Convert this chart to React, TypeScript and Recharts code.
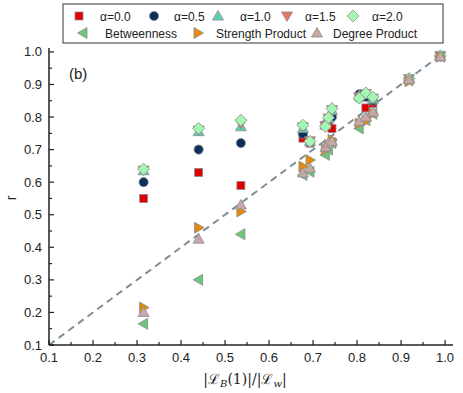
import React from 'react';
import { ScatterChart, Scatter, XAxis, YAxis, ReferenceLine } from 'recharts';

// |L_B(1)| / |L_w| for each network
const NETWORK_X = [0.315, 0.44, 0.536, 0.677, 0.693, 0.728, 0.735, 0.743, 0.805, 0.82, 0.836, 0.918, 0.989];

// r values per series (same order as NETWORK_X)
const ALPHA_00 = [0.55, 0.63, 0.59, 0.735, 0.72, 0.775, 0.79, 0.765, 0.86, 0.828, 0.842, 0.915, 0.988];
const ALPHA_05 = [0.6, 0.7, 0.72, 0.748, 0.722, 0.775, 0.793, 0.8, 0.87, 0.862, 0.85, 0.918, 0.988];
const ALPHA_10 = [0.635, 0.755, 0.77, 0.765, 0.725, 0.775, 0.795, 0.82, 0.865, 0.87, 0.855, 0.918, 0.988];
const ALPHA_15 = [0.637, 0.76, 0.78, 0.77, 0.727, 0.773, 0.797, 0.823, 0.862, 0.872, 0.858, 0.918, 0.988];
const ALPHA_20 = [0.64, 0.765, 0.79, 0.775, 0.725, 0.771, 0.798, 0.826, 0.858, 0.874, 0.861, 0.918, 0.988];
const BETWEENNESS = [0.165, 0.3, 0.44, 0.622, 0.632, 0.684, 0.7, 0.72, 0.765, 0.79, 0.81, 0.912, 0.985];
const STRENGTH = [0.215, 0.46, 0.51, 0.648, 0.668, 0.7, 0.715, 0.73, 0.78, 0.788, 0.81, 0.91, 0.985];
const DEGREE = [0.2, 0.425, 0.53, 0.628, 0.643, 0.707, 0.72, 0.725, 0.786, 0.8, 0.815, 0.915, 0.985];

const DIAGONAL = [{ x: 0.1, y: 0.1 }, { x: 1.0, y: 1.0 }];

const X_TICKS = [0.1, 0.15, 0.2, 0.25, 0.3, 0.35, 0.4, 0.45, 0.5, 0.55, 0.6, 0.65, 0.7, 0.75, 0.8, 0.85, 0.9, 0.95, 1.0];
const Y_TICKS = X_TICKS;

const FONT = '"Liberation Sans", Arial, sans-serif';
const EDGE = '#8c8c8c';

const SERIES = [
  { name: 'α=0.0', values: ALPHA_00, shape: 'square', color: '#e00000' },
  { name: 'α=0.5', values: ALPHA_05, shape: 'circle', color: '#0d2f5e' },
  { name: 'α=1.0', values: ALPHA_10, shape: 'up', color: '#5fcfb6' },
  { name: 'α=1.5', values: ALPHA_15, shape: 'down', color: '#e6766a' },
  { name: 'α=2.0', values: ALPHA_20, shape: 'diamond', color: '#a3f7b2' },
  { name: 'Betweenness', values: BETWEENNESS, shape: 'left', color: '#6dc77a' },
  { name: 'Strength Product', values: STRENGTH, shape: 'right', color: '#e38a0c' },
  { name: 'Degree Product', values: DEGREE, shape: 'up', color: '#c6a8a8' },
];

// legend layout: [icon x, icon y, text x]
const LEGEND_POS = [
  [79, 16, 100], [154, 16, 174], [218, 16, 240], [287, 16, 305], [353, 16, 372],
  [83, 33, 105], [198, 33, 216], [317, 33, 333],
];

function Marker({ kind, cx, cy, fill }: any) {
  const common = { fill, stroke: EDGE, strokeWidth: 0.8 };
  const s = 5.5;
  switch (kind) {
    case 'square':
      return <rect x={cx - 4} y={cy - 4} width={8} height={8} {...common} />;
    case 'circle':
      return <circle cx={cx} cy={cy} r={4.6} {...common} />;
    case 'up':
      return <polygon points={`${cx},${cy - s} ${cx + s},${cy + 4} ${cx - s},${cy + 4}`} {...common} />;
    case 'down':
      return <polygon points={`${cx},${cy + s} ${cx + s},${cy - 4} ${cx - s},${cy - 4}`} {...common} />;
    case 'left':
      return <polygon points={`${cx - s},${cy} ${cx + 4},${cy - s} ${cx + 4},${cy + s}`} {...common} />;
    case 'right':
      return <polygon points={`${cx + s},${cy} ${cx - 4},${cy - s} ${cx - 4},${cy + s}`} {...common} />;
    case 'diamond':
      return <polygon points={`${cx},${cy - 6} ${cx + 6},${cy} ${cx},${cy + 6} ${cx - 6},${cy}`} {...common} />;
    default:
      return null;
  }
}

const isMajor = (v: number) => Math.round(v * 100) % 10 === 0;

// ticks point inward; labels only on bottom and left
function AxisTick({ x, y, payload, side }: any) {
  const v = payload.value;
  const len = isMajor(v) ? 5 : 3;
  const ln = { stroke: '#222', strokeWidth: 1.2 };
  if (side === 'bottom') {
    return (
      <g>
        <line x1={x} y1={y} x2={x} y2={y - len} {...ln} />
        {isMajor(v) && (
          <text x={x} y={y + 17} textAnchor="middle" fontSize={13} fontFamily={FONT} fill="#222">
            {v.toFixed(1)}
          </text>
        )}
      </g>
    );
  }
  if (side === 'left') {
    return (
      <g>
        <line x1={x} y1={y} x2={x + len} y2={y} {...ln} />
        {isMajor(v) && (
          <text x={x - 7} y={y + 4.5} textAnchor="end" fontSize={13} fontFamily={FONT} fill="#222">
            {v.toFixed(1)}
          </text>
        )}
      </g>
    );
  }
  if (side === 'top') return <line x1={x} y1={y} x2={x} y2={y + len} {...ln} />;
  return <line x1={x} y1={y} x2={x - len} y2={y} {...ln} />;
}

const XLabel = ({ viewBox }: any) => {
  const cx = viewBox.x + viewBox.width / 2 - 6;
  return (
    <text x={cx} y={384} textAnchor="middle" fontSize={14} fontFamily='"DejaVu Serif", serif' fill="#222">
      |ℒ
      <tspan dy={3} fontSize={10} fontStyle="italic">B</tspan>
      <tspan dy={-3}>(1)|/|ℒ</tspan>
      <tspan dy={3} fontSize={10} fontStyle="italic">w</tspan>
      <tspan dy={-3}>|</tspan>
    </text>
  );
};

const App = () => {
  const axisLine = { stroke: '#222', strokeWidth: 1.5 };
  return (
    <div style={{ position: 'absolute', left: 0, top: 0, width: 463, height: 393, background: '#fff' }}>
      <ScatterChart width={463} height={393} margin={{ top: 48, right: 10, bottom: 0, left: 9 }}>
        <XAxis
          xAxisId="b"
          dataKey="x"
          type="number"
          domain={[0.1, 1.018]}
          allowDataOverflow
          ticks={X_TICKS}
          interval={0}
          height={48}
          tickSize={0}
          tickMargin={0}
          tickLine={false}
          axisLine={axisLine}
          tick={(p: any) => <AxisTick {...p} side="bottom" />}
          label={{ content: XLabel }}
        />
        <XAxis
          xAxisId="t"
          orientation="top"
          type="number"
          domain={[0.1, 1.018]}
          allowDataOverflow
          ticks={X_TICKS}
          interval={0}
          height={0}
          tickSize={0}
          tickMargin={0}
          tickLine={false}
          axisLine={axisLine}
          tick={(p: any) => <AxisTick {...p} side="top" />}
        />
        <YAxis
          yAxisId="l"
          dataKey="y"
          type="number"
          domain={[0.1, 1.012]}
          allowDataOverflow
          ticks={Y_TICKS}
          interval={0}
          width={40}
          tickSize={0}
          tickMargin={0}
          tickLine={false}
          axisLine={axisLine}
          tick={(p: any) => <AxisTick {...p} side="left" />}
        />
        <YAxis
          yAxisId="r"
          orientation="right"
          type="number"
          domain={[0.1, 1.012]}
          allowDataOverflow
          ticks={Y_TICKS}
          interval={0}
          width={0}
          tickSize={0}
          tickMargin={0}
          tickLine={false}
          axisLine={axisLine}
          tick={(p: any) => <AxisTick {...p} side="right" />}
        />
        <ReferenceLine
          xAxisId="b"
          yAxisId="l"
          segment={DIAGONAL}
          stroke="#7d8e9b"
          strokeWidth={2}
          strokeDasharray="7 5"
        />
        {SERIES.map((s) => (
          <Scatter
            key={s.name}
            name={s.name}
            xAxisId="b"
            yAxisId="l"
            data={NETWORK_X.map((x, i) => ({ x, y: s.values[i] }))}
            isAnimationActive={false}
            shape={(p: any) => <Marker kind={s.shape} cx={p.cx} cy={p.cy} fill={s.color} />}
          />
        ))}
      </ScatterChart>

      {/* overlay: legend box, panel tag, y label */}
      <svg width={463} height={393} style={{ position: 'absolute', left: 0, top: 0, pointerEvents: 'none' }}>
        <rect x={63} y={4} width={380} height={39} fill="#fff" stroke="#333" strokeWidth={1} />
        {SERIES.map((s, i) => {
          const [ix, iy, tx] = LEGEND_POS[i];
          return (
            <g key={s.name}>
              <Marker kind={s.shape} cx={ix} cy={iy} fill={s.color} />
              <text x={tx} y={iy + 4.5} fontSize={12} fontFamily={FONT} fill="#222">
                {s.name}
              </text>
            </g>
          );
        })}
        <text x={69} y={79} fontSize={15} fontFamily={FONT} fill="#222">(b)</text>
        <text x={16} y={198} fontSize={14} fontFamily={FONT} fill="#222" textAnchor="middle" transform="rotate(-90 16 198)">
          r
        </text>
      </svg>
    </div>
  );
};

export default App;
